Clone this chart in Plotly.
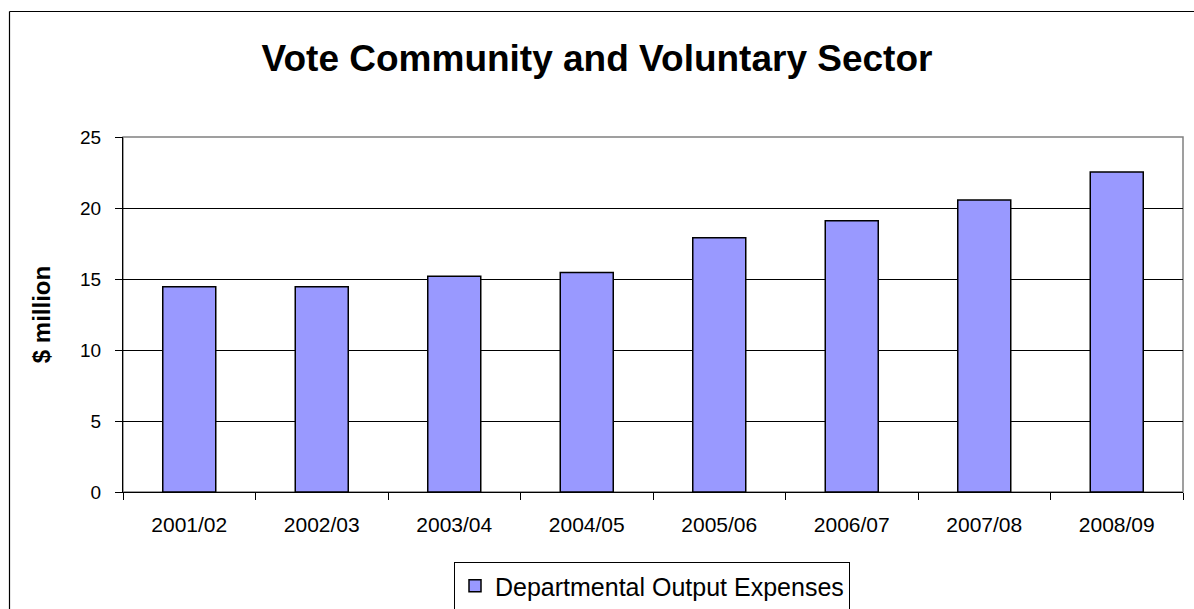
import plotly.graph_objects as go

categories = ["2001/02", "2002/03", "2003/04", "2004/05", "2005/06", "2006/07", "2007/08", "2008/09"]
values = [14.45, 14.45, 15.2, 15.45, 17.9, 19.1, 20.57, 22.54]
series_name = "Departmental Output Expenses"
title_text = "Vote Community and Voluntary Sector"
y_title = "$ million"
y_ticks = [0, 5, 10, 15, 20, 25]

W, H = 1194, 609
L, R, T, B = 123, 11, 137, 117
pw, ph = W - L - R, H - T - B

def px(x):
    return (x - L) / pw

def py(y):
    return (H - B - y) / ph

fig = go.Figure()
fig.add_trace(go.Bar(
    x=categories, y=values, name=series_name,
    marker=dict(color="#9999FF", line=dict(color="#000000", width=1.5)),
    showlegend=True,
))

fig.update_layout(
    width=W, height=H,
    margin=dict(l=L, r=R, t=T, b=B, autoexpand=False),
    paper_bgcolor="white", plot_bgcolor="white",
    font=dict(family="Liberation Sans, Arial, sans-serif", color="black", size=18),
    bargap=0.6,
    title=dict(text="<b>" + title_text + "</b>", x=0.5, xanchor="center",
               y=1 - 58 / H, yanchor="middle", font=dict(size=37)),
    showlegend=True,
    legend=dict(orientation="h", x=652 / W, xref="container", xanchor="center",
                y=1 - 586 / H, yref="container", yanchor="middle",
                bordercolor="black", borderwidth=1, font=dict(size=25),
                itemwidth=30),
    xaxis=dict(showline=True, linecolor="black", linewidth=1, ticks="outside",
               tickson="boundaries", ticklen=7, tickcolor="black",
               tickfont=dict(size=21), showgrid=False, ticklabelstandoff=14),
    yaxis=dict(range=[0, 25], tickvals=y_ticks, showline=True, linecolor="black",
               linewidth=1, ticks="outside", ticklen=7, tickcolor="black",
               showgrid=True, gridcolor="#000000", gridwidth=1,
               tickfont=dict(size=19), zeroline=False, ticklabelstandoff=10,
               title=dict(text="<b>" + y_title + "</b>", font=dict(size=24), standoff=22)),
    shapes=[
        dict(type="rect", xref="paper", yref="paper", x0=0, x1=1, y0=0, y1=1,
             line=dict(color="#808080", width=1.5), layer="below"),
        dict(type="line", xref="paper", yref="paper", x0=px(9.5), x1=px(1194), y0=py(11.5), y1=py(11.5),
             line=dict(color="black", width=1.2)),
        dict(type="line", xref="paper", yref="paper", x0=px(9.5), x1=px(9.5), y0=py(11.5), y1=py(609),
             line=dict(color="black", width=1.2)),
    ],
)

fig.write_html(
    "out.html",
    config={"displayModeBar": False},
    post_script="document.body.style.margin='0';document.body.style.overflow='hidden';",
)
